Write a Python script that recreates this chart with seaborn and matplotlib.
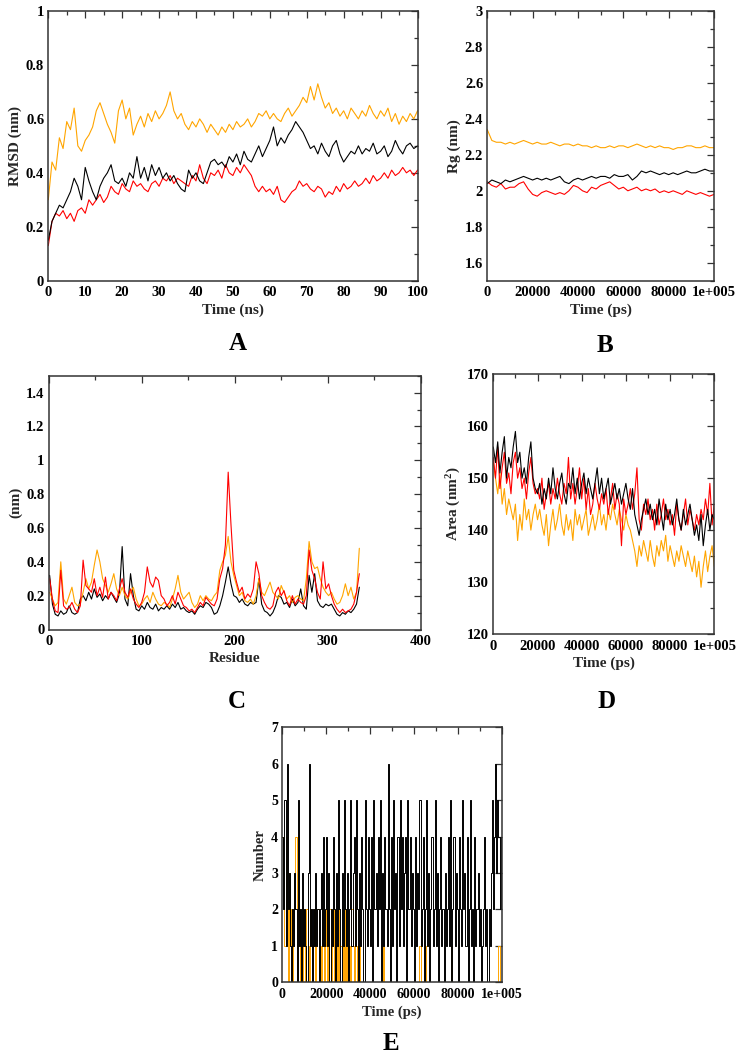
import numpy as np
import matplotlib
matplotlib.use("Agg")
import matplotlib.pyplot as plt
import matplotlib.ticker as mticker
import seaborn as sns

# ---------------- DATA ----------------
# Panel A: RMSD (nm) vs time (ns), one value per ns
rmsd_time_ns = np.arange(0, 101)
rmsd_black = [0.15, 0.22, 0.25, 0.28, 0.27, 0.30, 0.33, 0.38, 0.35, 0.30,
              0.42, 0.37, 0.33, 0.30, 0.35, 0.38, 0.40, 0.43, 0.37, 0.36,
              0.38, 0.35, 0.40, 0.38, 0.46, 0.38, 0.42, 0.37, 0.43, 0.39,
              0.42, 0.38, 0.40, 0.37, 0.39, 0.36, 0.34, 0.33, 0.41, 0.38,
              0.40, 0.37, 0.36, 0.40, 0.44, 0.45, 0.43, 0.44, 0.42, 0.46,
              0.44, 0.47, 0.43, 0.48, 0.45, 0.44, 0.47, 0.50, 0.46, 0.49,
              0.52, 0.57, 0.50, 0.53, 0.51, 0.54, 0.56, 0.59, 0.57, 0.55,
              0.52, 0.49, 0.50, 0.47, 0.51, 0.48, 0.46, 0.50, 0.52, 0.47,
              0.44, 0.46, 0.48, 0.47, 0.50, 0.47, 0.49, 0.48, 0.51, 0.47,
              0.48, 0.50, 0.46, 0.48, 0.52, 0.49, 0.47, 0.50, 0.51, 0.49,
              0.50]
rmsd_red = [0.13, 0.22, 0.25, 0.24, 0.26, 0.23, 0.25, 0.22, 0.26, 0.27,
            0.25, 0.30, 0.28, 0.30, 0.32, 0.29, 0.31, 0.35, 0.33, 0.32,
            0.36, 0.34, 0.33, 0.37, 0.35, 0.36, 0.34, 0.33, 0.36, 0.37,
            0.35, 0.38, 0.37, 0.39, 0.36, 0.38, 0.37, 0.36, 0.35, 0.39,
            0.37, 0.43, 0.38, 0.36, 0.40, 0.39, 0.41, 0.38, 0.43, 0.40,
            0.39, 0.42, 0.40, 0.43, 0.41, 0.39, 0.35, 0.33, 0.35, 0.33,
            0.34, 0.32, 0.35, 0.30, 0.29, 0.31, 0.33, 0.34, 0.37, 0.35,
            0.36, 0.34, 0.33, 0.35, 0.34, 0.31, 0.33, 0.32, 0.35, 0.33,
            0.36, 0.34, 0.35, 0.37, 0.35, 0.36, 0.38, 0.36, 0.39, 0.37,
            0.38, 0.40, 0.38, 0.41, 0.39, 0.40, 0.42, 0.40, 0.41, 0.39,
            0.41]
rmsd_orange = [0.30, 0.44, 0.41, 0.53, 0.49, 0.59, 0.56, 0.64, 0.50, 0.48,
               0.52, 0.54, 0.57, 0.63, 0.66, 0.62, 0.58, 0.55, 0.51, 0.63,
               0.67, 0.60, 0.64, 0.54, 0.58, 0.61, 0.57, 0.62, 0.59, 0.63,
               0.60, 0.62, 0.65, 0.70, 0.63, 0.60, 0.62, 0.58, 0.56, 0.59,
               0.57, 0.60, 0.58, 0.55, 0.58, 0.56, 0.54, 0.57, 0.55, 0.58,
               0.56, 0.59, 0.57, 0.58, 0.60, 0.57, 0.59, 0.62, 0.61, 0.63,
               0.60, 0.62, 0.60, 0.59, 0.62, 0.64, 0.61, 0.63, 0.65, 0.68,
               0.66, 0.72, 0.67, 0.73, 0.68, 0.64, 0.66, 0.62, 0.64, 0.61,
               0.63, 0.60, 0.64, 0.62, 0.60, 0.63, 0.61, 0.65, 0.62, 0.60,
               0.63, 0.61, 0.64, 0.59, 0.62, 0.58, 0.61, 0.59, 0.62, 0.60,
               0.63]

# Panel B: Rg (nm) vs time (ps), every 2000 ps
rg_time_ps = np.arange(0, 100001, 2000)
rg_orange = [2.34, 2.28, 2.27, 2.27, 2.26, 2.27, 2.26, 2.27, 2.28, 2.27,
             2.26, 2.27, 2.26, 2.26, 2.27, 2.26, 2.25, 2.26, 2.26, 2.25,
             2.26, 2.25, 2.25, 2.24, 2.25, 2.24, 2.24, 2.25, 2.24, 2.25,
             2.25, 2.24, 2.25, 2.26, 2.25, 2.24, 2.25, 2.24, 2.25, 2.24,
             2.24, 2.23, 2.24, 2.24, 2.25, 2.25, 2.24, 2.24, 2.25, 2.24,
             2.24]
rg_black = [2.04, 2.06, 2.05, 2.04, 2.06, 2.05, 2.06, 2.07, 2.08, 2.07,
            2.06, 2.07, 2.06, 2.07, 2.06, 2.07, 2.08, 2.05, 2.04, 2.06,
            2.07, 2.06, 2.07, 2.08, 2.07, 2.08, 2.08, 2.07, 2.09, 2.08,
            2.08, 2.09, 2.06, 2.08, 2.11, 2.10, 2.11, 2.10, 2.09, 2.10,
            2.09, 2.10, 2.09, 2.10, 2.11, 2.10, 2.10, 2.11, 2.12, 2.11,
            2.11]
rg_red = [2.05, 2.03, 2.02, 2.04, 2.01, 2.02, 2.02, 2.04, 2.05, 2.01,
          1.98, 1.97, 1.99, 2.00, 1.99, 1.98, 1.99, 1.98, 2.00, 2.03,
          2.02, 2.00, 1.99, 2.02, 2.01, 2.03, 2.04, 2.05, 2.03, 2.01,
          2.02, 2.00, 2.01, 2.02, 2.00, 2.01, 2.00, 2.01, 1.99, 2.00,
          1.99, 2.00, 1.99, 1.98, 2.00, 1.99, 1.98, 1.99, 1.98, 1.97,
          1.98]

# Panel C: RMSF (nm) per residue, residues 1, 4, 7, ..., 334
rmsf_black = [0.32, 0.15, 0.09, 0.08, 0.11, 0.09, 0.10, 0.14, 0.10, 0.09,
              0.10, 0.18, 0.20, 0.17, 0.22, 0.18, 0.24, 0.19, 0.21, 0.17,
              0.20, 0.18, 0.22, 0.19, 0.16, 0.21, 0.49, 0.18, 0.14, 0.33,
              0.20, 0.12, 0.11, 0.14, 0.12, 0.16, 0.13, 0.12, 0.15, 0.11,
              0.13, 0.12, 0.14, 0.12, 0.15, 0.13, 0.16, 0.12, 0.13, 0.11,
              0.10, 0.11, 0.09, 0.12, 0.14, 0.13, 0.16, 0.15, 0.13, 0.09,
              0.10, 0.14, 0.20, 0.28, 0.37, 0.27, 0.20, 0.19, 0.16, 0.18,
              0.15, 0.14, 0.16, 0.15, 0.16, 0.30, 0.15, 0.11, 0.10, 0.08,
              0.10, 0.14, 0.20, 0.19, 0.15, 0.16, 0.13, 0.18, 0.14, 0.16,
              0.24, 0.14, 0.12, 0.32, 0.22, 0.33, 0.17, 0.14, 0.13, 0.15,
              0.14, 0.15, 0.12, 0.09, 0.08, 0.10, 0.09, 0.11, 0.10, 0.12,
              0.15, 0.25]
rmsf_red = [0.30, 0.18, 0.11, 0.10, 0.35, 0.14, 0.12, 0.13, 0.16, 0.12,
            0.10, 0.14, 0.41, 0.26, 0.24, 0.22, 0.30, 0.20, 0.25, 0.19,
            0.31, 0.18, 0.22, 0.20, 0.17, 0.24, 0.30, 0.22, 0.19, 0.24,
            0.18, 0.15, 0.13, 0.16, 0.22, 0.37, 0.28, 0.25, 0.31, 0.29,
            0.20, 0.18, 0.14, 0.16, 0.20, 0.15, 0.22, 0.18, 0.14, 0.13,
            0.11, 0.12, 0.10, 0.13, 0.16, 0.14, 0.19, 0.17, 0.15, 0.14,
            0.18, 0.30, 0.36, 0.50, 0.93, 0.62, 0.35, 0.28, 0.22, 0.25,
            0.18, 0.21, 0.19, 0.24, 0.40, 0.33, 0.20, 0.16, 0.13, 0.12,
            0.14, 0.22, 0.25, 0.20, 0.23, 0.17, 0.14, 0.20, 0.15, 0.18,
            0.16, 0.15, 0.20, 0.47, 0.35, 0.30, 0.22, 0.18, 0.40, 0.24,
            0.27, 0.20, 0.15, 0.12, 0.10, 0.12, 0.10, 0.11, 0.12, 0.15,
            0.22, 0.33]
rmsf_orange = [0.22, 0.18, 0.14, 0.16, 0.40, 0.18, 0.15, 0.20, 0.25, 0.16,
               0.14, 0.15, 0.22, 0.30, 0.24, 0.28, 0.38, 0.47, 0.40, 0.30,
               0.26, 0.22, 0.27, 0.33, 0.24, 0.20, 0.25, 0.20, 0.18, 0.22,
               0.25, 0.18, 0.14, 0.15, 0.18, 0.20, 0.16, 0.22, 0.18, 0.15,
               0.14, 0.16, 0.15, 0.13, 0.18, 0.24, 0.32, 0.22, 0.18, 0.20,
               0.22, 0.16, 0.13, 0.15, 0.20, 0.17, 0.20, 0.18, 0.17, 0.20,
               0.22, 0.35, 0.40, 0.44, 0.55, 0.40, 0.32, 0.26, 0.20, 0.22,
               0.17, 0.16, 0.18, 0.15, 0.20, 0.30, 0.22, 0.20, 0.24, 0.28,
               0.22, 0.20, 0.18, 0.26, 0.22, 0.18, 0.20, 0.16, 0.19, 0.20,
               0.18, 0.17, 0.30, 0.52, 0.40, 0.36, 0.37, 0.30, 0.25, 0.22,
               0.20, 0.22, 0.18, 0.15, 0.16, 0.20, 0.27, 0.20, 0.25, 0.18,
               0.22, 0.48]

# Panel D: SASA area (nm^2) vs time (ps), every 1000 ps
sasa_time_ps = np.arange(0, 100001, 1000)
sasa_black = [156, 153, 157, 151, 155, 158, 150, 154, 152, 156, 159, 153, 155, 150, 152, 149, 154, 157, 150, 148,
              147, 149, 145, 148, 146, 150, 147, 152, 148, 146, 149, 151, 147, 145, 149, 148, 152, 147, 150, 146,
              149, 151, 147, 150, 148, 146, 149, 152, 147, 150, 146, 148, 150, 145, 147, 149, 146, 148, 145, 147,
              149, 146, 144, 148, 143, 141, 139, 142, 144, 146, 143, 145, 142, 144, 141, 146, 143, 140, 145, 142,
              144, 141, 143, 146, 142, 140, 144, 141, 143, 145, 142, 139, 141, 138, 143, 137, 141, 144, 140, 143, 142]
sasa_red = [154, 150, 156, 148, 152, 155, 149, 151, 147, 153, 155, 150, 152, 148, 150, 146, 151, 154, 149, 147,
            148, 146, 150, 144, 147, 149, 145, 148, 146, 150, 147, 145, 149, 147, 154, 146, 149, 145, 148, 152,
            146, 150, 144, 148, 143, 145, 149, 146, 144, 147, 145, 148, 143, 146, 149, 144, 147, 145, 137, 146,
            143, 145, 148, 144, 147, 152, 142, 140, 145, 143, 146, 142, 144, 140, 145, 141, 143, 146, 142, 144,
            141, 143, 139, 145, 142, 140, 143, 146, 141, 144, 142, 140, 143, 141, 144, 142, 146, 143, 149, 141, 145]
sasa_orange = [153, 150, 147, 151, 145, 148, 143, 146, 144, 142, 145, 138, 143, 140, 146, 142, 144, 140, 143, 145,
               142, 144, 141, 139, 143, 137, 141, 144, 140, 142, 145, 141, 139, 143, 140, 142, 138, 144, 141, 143,
               140, 142, 144, 139, 141, 143, 140, 142, 145, 141, 143, 140, 144, 142, 145, 143, 141, 144, 142, 140,
               143, 141, 140, 138, 136, 133, 137, 135, 138, 136, 134, 138, 135, 133, 137, 135, 138, 136, 139, 134,
               137, 135, 133, 136, 134, 137, 135, 133, 136, 134, 132, 135, 131, 134, 129, 133, 136, 132, 135, 137, 133]

# Panel E: number of H-bonds vs time (ps), every 500 ps
hb_time_ps = np.arange(0, 100001, 500)
hb_black = [4, 2, 5, 1, 6, 2, 3, 1, 0, 2,
            1, 3, 2, 0, 5, 1, 2, 0, 3, 1,
            2, 1, 0, 3, 6, 1, 2, 0, 2, 1,
            3, 1, 2, 0, 2, 3, 1, 4, 1, 2,
            4, 1, 3, 0, 2, 1, 4, 2, 0, 3,
            1, 5, 2, 0, 3, 1, 5, 2, 1, 3,
            0, 2, 5, 1, 3, 4, 1, 5, 2, 0,
            3, 1, 4, 2, 0, 5, 2, 1, 4, 2,
            1, 4, 0, 5, 2, 3, 1, 4, 2, 5,
            0, 3, 1, 4, 2, 1, 6, 2, 0, 4,
            1, 5, 2, 3, 0, 4, 1, 5, 2, 4,
            1, 3, 4, 0, 5, 2, 4, 1, 3, 2,
            0, 4, 1, 3, 2, 5, 1, 2, 4, 0,
            2, 5, 1, 3, 0, 2, 4, 1, 2, 5,
            1, 3, 0, 2, 4, 1, 2, 0, 3, 1,
            2, 4, 1, 5, 0, 2, 4, 1, 3, 2,
            0, 4, 2, 1, 5, 2, 3, 1, 4, 0,
            2, 5, 1, 2, 0, 4, 1, 2, 3, 1,
            2, 0, 1, 2, 4, 1, 2, 0, 2, 1,
            3, 5, 2, 4, 6, 3, 5, 4, 2, 4,
            3]
hb_orange = [4, 3, 1, 4, 2, 0, 3, 1, 2, 0,
             1, 2, 4, 0, 1, 2, 0, 1, 0, 2,
             1, 0, 2, 1, 0, 2, 1, 0, 1, 2,
             0, 1, 2, 0, 1, 0, 2, 1, 0, 1,
             2, 0, 1, 2, 0, 1, 2, 0, 1, 0,
             1, 0, 2, 1, 0, 1, 0, 2, 0, 1,
             0, 1, 0, 2, 1, 0, 3, 1, 0, 0,
             1, 0, 0, 0, 0, 0, 0, 0, 0, 0,
             0, 0, 0, 0, 0, 0, 0, 0, 0, 0,
             0, 0, 1, 0, 0, 0, 0, 0, 0, 0,
             0, 0, 0, 0, 0, 0, 0, 0, 0, 0,
             0, 0, 0, 0, 0, 0, 0, 0, 0, 0,
             0, 0, 0, 0, 0, 1, 0, 0, 0, 0,
             1, 0, 0, 0, 0, 0, 0, 0, 0, 0,
             0, 0, 0, 0, 0, 0, 0, 0, 0, 0,
             0, 0, 0, 0, 1, 0, 0, 0, 0, 0,
             0, 0, 0, 0, 0, 0, 0, 0, 0, 0,
             0, 0, 0, 0, 0, 0, 0, 0, 0, 0,
             0, 0, 0, 0, 0, 0, 0, 0, 0, 0,
             0, 0, 0, 0, 0, 0, 0, 1, 0, 0,
             0]

time_ticks_ps = [0, 20000, 40000, 60000, 80000, 100000]
time_tick_labels = ["0", "20000", "40000", "60000", "80000", "1e+005"]

COL_BLACK = "#000000"
COL_RED = "#ff0000"
COL_ORANGE = "#ffa500"

# ---------------- STYLE ----------------
sns.set_theme(style="white")
plt.rcParams['font.family'] = ['Liberation Serif', 'DejaVu Serif']
plt.rcParams['font.weight'] = 'bold'
plt.rcParams['axes.labelweight'] = 'bold'
plt.rcParams['mathtext.fontset'] = 'custom'
plt.rcParams['mathtext.rm'] = 'Liberation Serif:bold'
plt.rcParams['mathtext.bf'] = 'Liberation Serif:bold'
plt.rcParams['mathtext.it'] = 'Liberation Serif:bold'

W, H = 742, 1058
fig = plt.figure(figsize=(W / 100, H / 100), dpi=100)


def add_ax(l, t, r, b):
    return fig.add_axes([l / W, 1 - b / H, (r - l) / W, (b - t) / H])


def style(ax, xlim, ylim, xmaj, xmin, ymaj, ymin, fs, xlabel, ylabel):
    ax.set_xlim(*xlim)
    ax.set_ylim(*ylim)
    ax.xaxis.set_major_locator(mticker.MultipleLocator(xmaj))
    ax.xaxis.set_minor_locator(mticker.MultipleLocator(xmin))
    ax.yaxis.set_major_locator(mticker.MultipleLocator(ymaj))
    if ymin:
        ax.yaxis.set_minor_locator(mticker.MultipleLocator(ymin))
    ax.yaxis.set_major_formatter(mticker.FormatStrFormatter('%g'))
    ax.xaxis.set_major_formatter(mticker.FormatStrFormatter('%g'))
    ax.tick_params(which='both', direction='in', top=True, right=True,
                   color='#333333', width=0.9, labelsize=fs, labelcolor='black')
    ax.tick_params(which='major', length=5)
    ax.tick_params(which='minor', length=3)
    ax.tick_params(axis='x', which='both', pad=4)
    ax.tick_params(axis='y', which='both', pad=3)
    for s in ax.spines.values():
        s.set_visible(True)
        s.set_color('#333333')
        s.set_linewidth(1.1)
    ax.set_xlabel(xlabel, fontsize=fs + 0.5, fontweight='bold', labelpad=3)
    ax.set_ylabel(ylabel, fontsize=fs + 0.5, fontweight='bold', labelpad=3)
    ax.grid(False)


def line(ax, x, y, c, lw=0.8, **kw):
    sns.lineplot(x=np.asarray(x), y=np.asarray(y), ax=ax, color=c,
                 linewidth=lw, estimator=None, sort=False, **kw)


# ---- Panel A ----
axA = add_ax(48.3, 11, 417.5, 280.7)
line(axA, rmsd_time_ns, rmsd_orange, COL_ORANGE)
line(axA, rmsd_time_ns, rmsd_red, COL_RED)
line(axA, rmsd_time_ns, rmsd_black, COL_BLACK)
style(axA, (0, 100), (0, 1), 10, 5, 0.2, 0.1, 10.5, "Time (ns)", "RMSD (nm)")

# ---- Panel B ----
axB = add_ax(487.3, 11, 714, 280.7)
line(axB, rg_time_ps, rg_orange, COL_ORANGE)
line(axB, rg_time_ps, rg_red, COL_RED)
line(axB, rg_time_ps, rg_black, COL_BLACK)
style(axB, (0, 100000), (1.5, 3), 20000, 10000, 0.2, 0.1, 10.5, "Time (ps)", "Rg (nm)")
axB.set_xticks(time_ticks_ps)
axB.set_xticklabels(time_tick_labels)
axB.set_yticks([1.6, 1.8, 2.0, 2.2, 2.4, 2.6, 2.8, 3.0])

# ---- Panel C ----
axC = add_ax(48.7, 375.7, 420.7, 629.5)
resC_black = np.arange(len(rmsf_black)) * 3 + 1
resC_red = np.arange(len(rmsf_red)) * 3 + 1
resC_orange = np.arange(len(rmsf_orange)) * 3 + 1
line(axC, resC_black, rmsf_black, COL_BLACK)
line(axC, resC_orange, rmsf_orange, COL_ORANGE)
line(axC, resC_red, rmsf_red, COL_RED)
style(axC, (0, 400), (0, 1.5), 100, 50, 0.2, 0.1, 10.5, "Residue", "(nm)")
axC.set_yticks([0, 0.2, 0.4, 0.6, 0.8, 1.0, 1.2, 1.4])

# ---- Panel D ----
axD = add_ax(493.3, 374.3, 714.3, 634)
line(axD, sasa_time_ps, sasa_orange, COL_ORANGE)
line(axD, sasa_time_ps, sasa_red, COL_RED)
line(axD, sasa_time_ps, sasa_black, COL_BLACK)
style(axD, (0, 100000), (120, 170), 20000, 10000, 10, 5, 10.5, "Time (ps)",
      r"Area (nm$^{\mathbf{2}}$)")
axD.set_xticks(time_ticks_ps)
axD.set_xticklabels(time_tick_labels)

# ---- Panel E ----
axE = add_ax(282.3, 727.3, 501.7, 982.3)
line(axE, hb_time_ps, hb_orange, COL_ORANGE, lw=0.7, drawstyle='steps-post')
line(axE, hb_time_ps, hb_black, COL_BLACK, lw=0.7, drawstyle='steps-post')
style(axE, (0, 100000), (0, 7), 20000, 10000, 1, None, 10, "Time (ps)", "Number")
axE.set_xticks(time_ticks_ps)
axE.set_xticklabels(time_tick_labels)

# ---- Panel letters ----
for letter, (px, py) in {"A": (238, 344), "B": (605, 345), "C": (237, 702),
                         "D": (607, 702), "E": (391, 1044)}.items():
    fig.text(px / W, 1 - py / H, letter, ha='center', va='center',
             fontsize=18, fontweight='bold', color='black')

fig.savefig("out.png", dpi=100)
